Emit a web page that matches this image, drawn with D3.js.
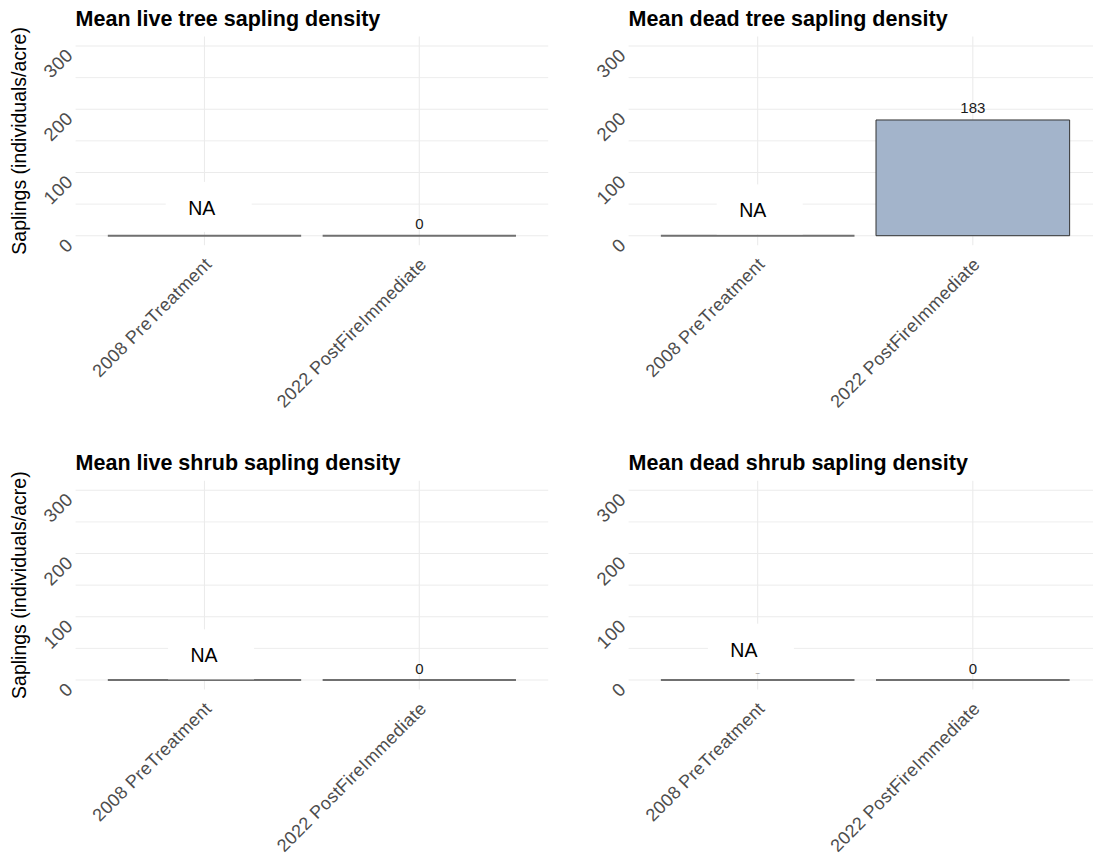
<!DOCTYPE html>
<html>
<head>
<meta charset="utf-8">
<script src="https://cdn.jsdelivr.net/npm/d3@7"></script>
<style>
  html, body { margin: 0; padding: 0; background: #fff; }
  svg { display: block; font-family: "Liberation Sans", Arial, sans-serif; }
</style>
</head>
<body>
<svg id="chart" width="1093" height="858"></svg>
<script>
// Survey periods on the x axis
const categories = ["2008 PreTreatment", "2022 PostFireImmediate"];

// Panel titles
const panelTitles = [
  "Mean live tree sapling density",
  "Mean dead tree sapling density",
  "Mean live shrub sapling density",
  "Mean dead shrub sapling density"
];

// Mean sapling density (individuals/acre); null = not measured
const liveTree  = [null, 0];
const deadTree  = [null, 183];
const liveShrub = [null, 0];
const deadShrub = [null, 0];

// Y axis ticks and grid
const yTicks = [0, 100, 200, 300];
const yGrid = [0, 50, 100, 150, 200, 250, 300];

// "NA" annotation placement (data units / category units)
const naLabelY = [44, 40, 39, 48];
const naLabelShift = [-0.013, -0.023, -0.002, -0.064];

const panelValues = [liveTree, deadTree, liveShrub, deadShrub];

const svg = d3.select("#chart");

const colX = [[75.6, 548.2], [628.6, 1101.9]];
const rowY = [[36.5, 245.2], [480.8, 689.5]];

const barFill = "#a3b4cb";
const gridColor = "#ebebeb";
const tickColor = "#4d4d4d";

panelValues.forEach((values, i) => {
  const col = i % 2, row = Math.floor(i / 2);
  const [x0, x1] = colX[col];
  const [yTop, yBot] = rowY[row];

  const x = d3.scaleBand().domain(categories).range([x0, x1])
    .paddingInner(0.1).paddingOuter(0.15);
  const y = d3.scaleLinear().domain([-15, 315]).range([yBot, yTop]);

  const g = svg.append("g");

  // grid
  g.selectAll("line.hgrid").data(yGrid).join("line")
    .attr("x1", x0).attr("x2", x1)
    .attr("y1", d => y(d)).attr("y2", d => y(d))
    .attr("stroke", gridColor).attr("stroke-width", d => d % 100 === 0 ? 1.1 : 0.9);
  g.selectAll("line.vgrid").data(categories).join("line")
    .attr("x1", d => x(d) + x.bandwidth() / 2).attr("x2", d => x(d) + x.bandwidth() / 2)
    .attr("y1", yTop).attr("y2", yBot)
    .attr("stroke", gridColor).attr("stroke-width", 1.1);

  // bars (paths so that zero-height bars still show their outline)
  g.selectAll("path.bar").data(values).join("path")
    .attr("d", (d, j) => {
      const bx = x(categories[j]), bw = x.bandwidth();
      const top = y(d ?? 0), base = y(0);
      return `M${bx},${base}H${bx + bw}V${top}H${bx}Z`;
    })
    .attr("fill", barFill)
    .attr("stroke", d => (d ?? 0) === 0 ? "#707070" : "#333")
    .attr("stroke-width", d => (d ?? 0) === 0 ? 2 : 1);

  // value labels
  g.selectAll("text.val").data(values).join("text")
    .attr("x", (d, j) => x(categories[j]) + x.bandwidth() / 2)
    .attr("y", d => y(d ?? 0) - 6.5)
    .attr("text-anchor", "middle")
    .attr("font-size", 15)
    .attr("fill", "#1a1a1a")
    .text(d => d3.format("d")(d ?? 0));

  // NA annotations for missing values
  values.forEach((d, j) => {
    if (d !== null) return;
    const tx = x(categories[j]) + x.bandwidth() / 2 + naLabelShift[i] * x.step();
    const ty = y(naLabelY[i]);
    g.append("rect")
      .attr("x", tx + 7 - 43).attr("y", ty - 1 - 25)
      .attr("width", 86).attr("height", 50)
      .attr("fill", "#fff");
    g.append("text")
      .attr("x", tx).attr("y", ty)
      .attr("text-anchor", "middle")
      .attr("dominant-baseline", "central")
      .attr("font-size", 19.5)
      .attr("fill", "#000")
      .text("NA");
  });

  // y tick labels
  g.selectAll("text.ytick").data(yTicks).join("text")
    .attr("transform", d => `translate(${x0 - 11},${y(d) + 1}) rotate(-45)`)
    .attr("text-anchor", "end")
    .attr("dy", "0.72em")
    .attr("font-size", 18.5)
    .attr("letter-spacing", 0.4)
    .attr("fill", tickColor)
    .text(d => d);

  // x tick labels
  g.selectAll("text.xtick").data(categories).join("text")
    .attr("transform", d => `translate(${x(d) + x.bandwidth() / 2 - 1},${yBot + 11}) rotate(-45)`)
    .attr("text-anchor", "end")
    .attr("dy", "0.72em")
    .attr("font-size", 18)
    .attr("letter-spacing", 0.3)
    .attr("fill", tickColor)
    .text(d => d);

  // panel title
  g.append("text")
    .attr("x", x0).attr("y", yTop - 11)
    .attr("font-size", 21.5)
    .attr("font-weight", "bold")
    .attr("fill", "#000")
    .text(panelTitles[i]);

  // y axis title on the left column
  if (col === 0) {
    g.append("text")
      .attr("transform", `translate(26,${(yTop + yBot) / 2}) rotate(-90)`)
      .attr("text-anchor", "middle")
      .attr("font-size", 19.5)
      .attr("fill", "#000")
      .text("Saplings (individuals/acre)");
  }
});
</script>
</body>
</html>
